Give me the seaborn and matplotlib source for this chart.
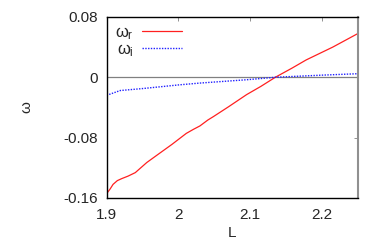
import matplotlib
matplotlib.use("Agg")
import matplotlib.pyplot as plt
import seaborn as sns
import pandas as pd

# values
L_r = [1.900, 1.905, 1.909, 1.915, 1.921, 1.930, 1.940, 1.956, 1.972, 1.991,
       2.011, 2.021, 2.030, 2.041, 2.049, 2.070, 2.095, 2.115, 2.135, 2.158, 2.178,
       2.215, 2.250]
omega_r = [-0.1544, -0.148, -0.142, -0.137, -0.1344, -0.131, -0.1264, -0.113, -0.102,
           -0.089, -0.0744, -0.069, -0.0645, -0.0567, -0.052, -0.039, -0.023,
           -0.012, 0.000, 0.012, 0.023, 0.040, 0.058]
L_i = [1.900, 1.919, 1.950, 2.002, 2.030, 2.095, 2.135, 2.200, 2.250]
omega_i = [-0.024, -0.0176, -0.0150, -0.010, -0.0077, -0.0033, 0.000, 0.0028, 0.0047]

sns.set_style("white")
plt.rcParams['font.family'] = ['Liberation Sans', 'DejaVu Sans']
plt.rcParams['mathtext.fontset'] = 'custom'
plt.rcParams['mathtext.rm'] = 'Liberation Sans'
plt.rcParams['mathtext.it'] = 'Liberation Sans'

df_r = pd.DataFrame({'L': L_r, 'omega': omega_r})
df_i = pd.DataFrame({'L': L_i, 'omega': omega_i})

fig, ax = plt.subplots(figsize=(3.82, 2.45), dpi=100)
fig.subplots_adjust(left=0.279, right=0.937, top=0.931, bottom=0.192)

ax.axhline(0, color='#808080', lw=0.9, zorder=1)
sns.lineplot(data=df_r, x='L', y='omega', ax=ax, color='#ff2020', lw=0.9,
             label=r'$\omega_\mathrm{r}$')
sns.lineplot(data=df_i, x='L', y='omega', ax=ax, color='#2020ff', lw=1.0,
             linestyle=(0, (1, 1)), label=r'$\omega_\mathrm{i}$')

ax.set_xlim(1.9, 2.25)
ax.set_ylim(-0.16, 0.08)
ax.set_xticks([1.9, 2.0, 2.1, 2.2])
ax.set_xticklabels(['1.9', '2', '2.1', '2.2'])
ax.set_yticks([-0.16, -0.08, 0, 0.08])
ax.set_yticklabels(['-0.16', '-0.08', '0', '0.08'])
ax.tick_params(direction='in', length=3, width=0.6, labelsize=11, top=True, right=True,
               color='#808080')
ax.tick_params(axis='x', pad=7)
ax.tick_params(axis='y', pad=6)
ax.set_xlabel('L', fontsize=11, labelpad=3)
ax.set_ylabel('ω', fontsize=11, labelpad=22)
for s in ax.spines.values():
    s.set_color('black')
    s.set_linewidth(1.0)
ax.spines['right'].set_color('#909090')
ax.spines['right'].set_linewidth(1.5)

leg = ax.legend(loc='upper left', frameon=False, fontsize=12, handlelength=2.4,
                handletextpad=0.5, borderaxespad=0.1, labelspacing=0.0,
                markerfirst=False)

fig.savefig('out.png', dpi=100)
